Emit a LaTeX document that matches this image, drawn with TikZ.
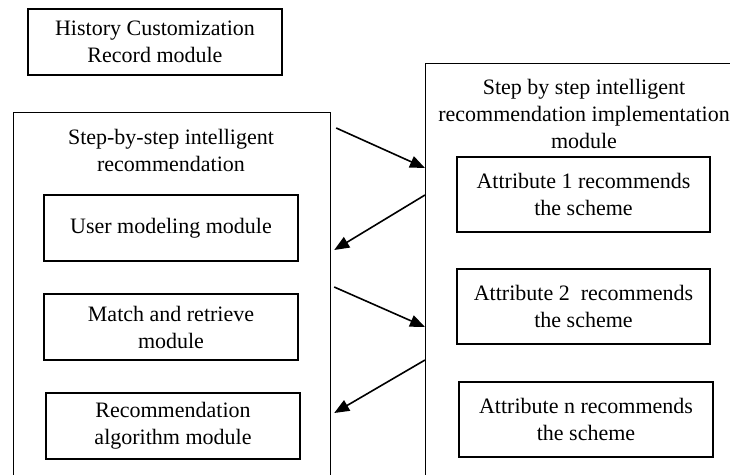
\documentclass[tikz,border=0pt]{standalone}
\usepackage{fontspec}
\setmainfont{Liberation Serif}
\usetikzlibrary{arrows.meta}
\begin{document}
\begin{tikzpicture}[x=1pt,y=-1pt,
  txt/.style={font=\fontsize{22}{27}\selectfont},
  box/.style={draw,line width=1.2pt,inner sep=0pt,minimum width=254pt,minimum height=66pt,align=center,txt},
  big/.style={draw,line width=1.2pt,inner sep=0pt,anchor=north west},
  ttl/.style={align=center,inner sep=0pt,txt},
  arr/.style={line width=1.6pt,-{Triangle[length=15pt,width=12pt]}}]
\useasboundingbox (0,0) rectangle (730,474);
\clip (0,0) rectangle (730,474);
\node[big,minimum width=317pt,minimum height=380pt] (L) at (13,112) {};
\node[big,minimum width=325pt,minimum height=430pt] (R) at (425,63) {};
\node[box] (H) at (155,42) {History Customization\\Record module};
\node[ttl] (LT) at (171,150) {Step-by-step intelligent\\recommendation};
\node[ttl] (RT) at (584,114) {Step by step intelligent\\recommendation implementation\\module};
\node[box] (U) at (171,228) {User modeling module};
\node[box] (M) at (171,327) {Match and retrieve\\module};
\node[box] (Rc) at (173,426) {Recommendation\\algorithm module};
\node[box,minimum width=253pt,minimum height=75pt] (A1) at (583.5,194.5) {Attribute 1 recommends\\the scheme};
\node[box,minimum width=253pt,minimum height=75pt] (A2) at (583.5,306.5) {Attribute 2\ \ recommends\\the scheme};
\node[box,minimum width=254pt,minimum height=75pt] (An) at (586,419.5) {Attribute n recommends\\the scheme};
\draw[arr] ([shift={(5pt,-16pt)}]L.north east) -- ([yshift=-105pt]R.north west);
\draw[arr] ([yshift=-132pt]R.north west) -- ([shift={(3pt,-138pt)}]L.north east);
\draw[arr] ([shift={(3pt,-175pt)}]L.north east) -- ([yshift=-264pt]R.north west);
\draw[arr] ([yshift=-297pt]R.north west) -- ([shift={(3pt,-301pt)}]L.north east);
\end{tikzpicture}
\end{document}
